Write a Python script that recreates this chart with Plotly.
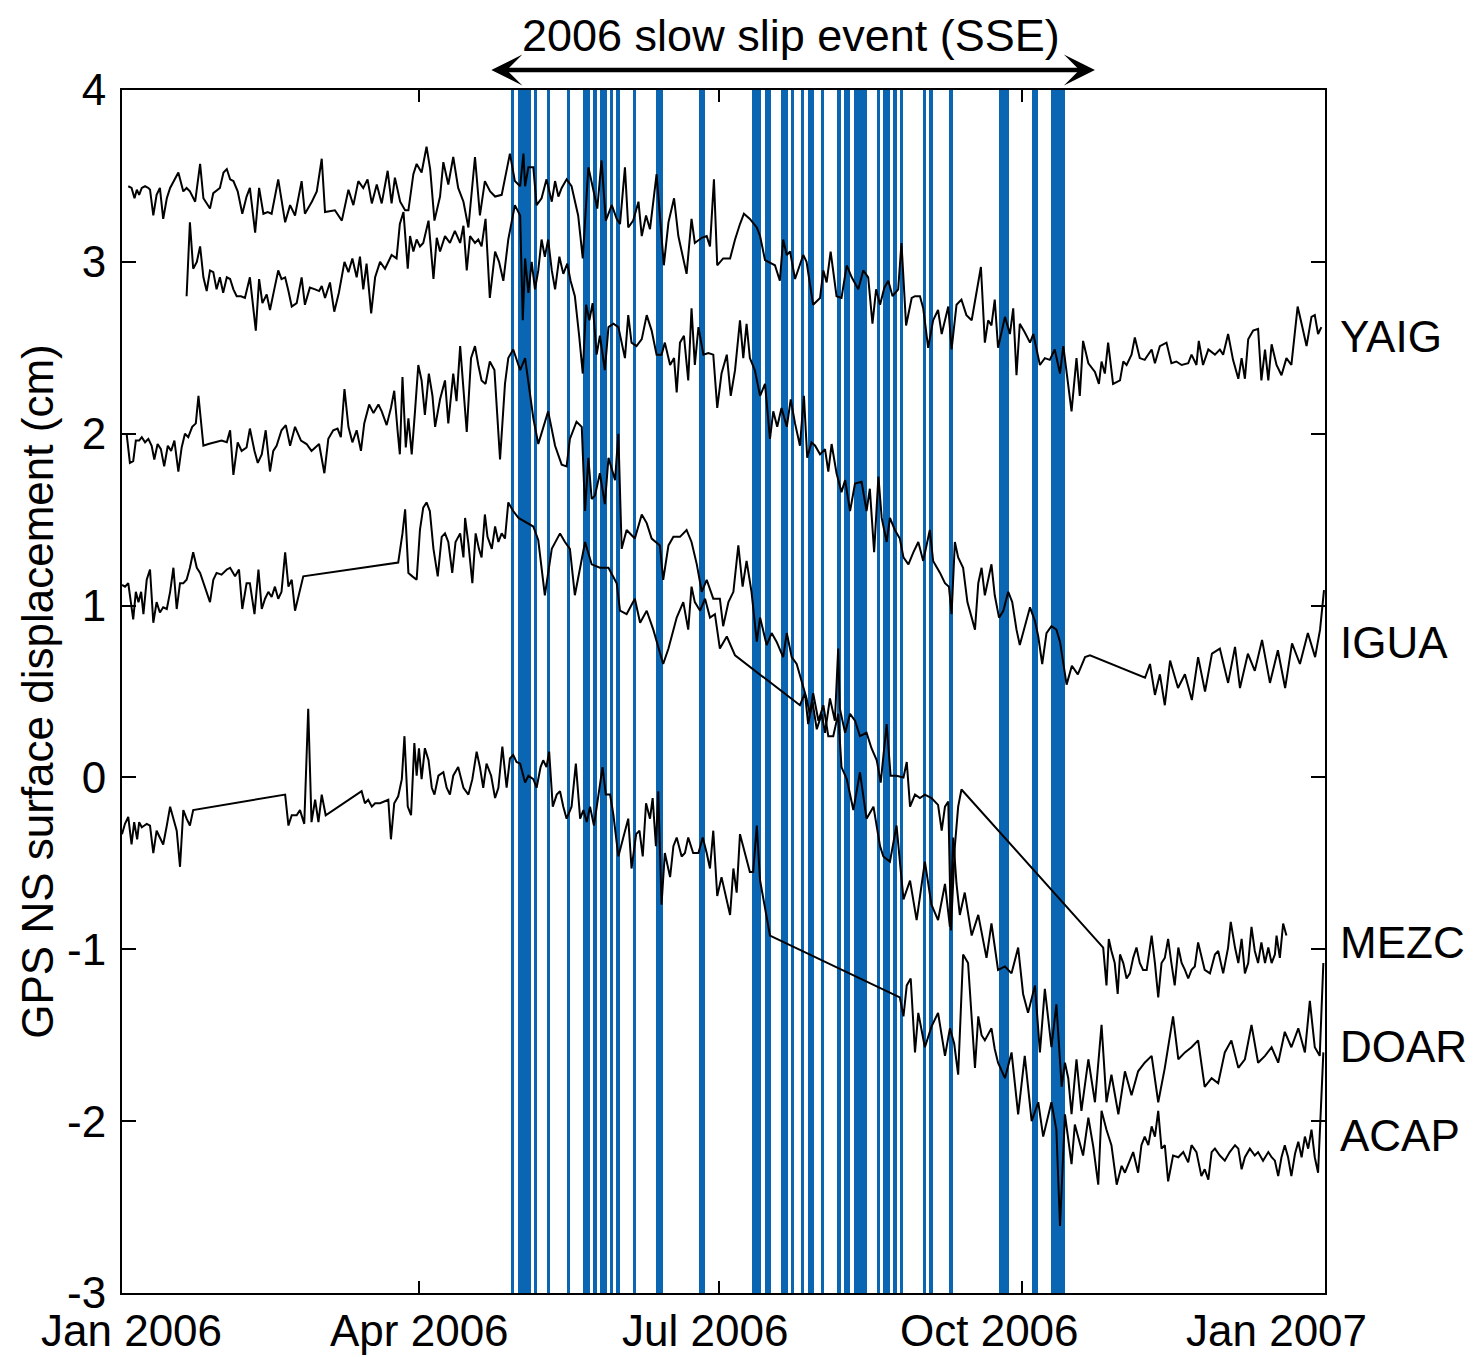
import numpy as np
import pandas as pd
import plotly.graph_objects as go

# ---------------- data (day offsets from 2006-01-01, displacement in cm) ----------------
YAIG = [(1.9,3.44),(2.9,3.43),(3.8,3.37),(4.5,3.42),(5.2,3.39),(6.0,3.43),(7.0,3.44),(8.0,3.43),(8.5,3.42),(9.5,3.27),
(10.5,3.39),(11.5,3.43),(12.5,3.25),(13.6,3.37),(14.6,3.43),(16.1,3.49),(17.1,3.52),(18.6,3.41),(19.6,3.43),(20.6,3.41),
(22.2,3.35),(23.7,3.57),(24.7,3.37),(26.7,3.31),(27.7,3.40),(29.7,3.43),(30.8,3.52),(31.8,3.54),(32.8,3.48),(33.8,3.47),
(35.1,3.41),(36.5,3.28),(37.8,3.38),(38.8,3.43),(40.4,3.17),(41.6,3.43),(42.9,3.28),(44.2,3.29),(45.4,3.28),(47.4,3.48),
(49.5,3.23),(51.0,3.33),(52.5,3.27),(54.5,3.47),(55.5,3.28),(57.6,3.35),(59.1,3.41),(60.6,3.60),(61.6,3.29),(64.6,3.30),
(66.7,3.24),(68.7,3.42),(70.2,3.33),(71.7,3.47),(73.2,3.43),(74.5,3.48),(75.8,3.34),(77.3,3.45),(78.8,3.34),(80.6,3.53),
(81.8,3.34),(82.8,3.49),(84.4,3.35),(85.9,3.30),(86.9,3.30),(88.4,3.51),(89.4,3.57),(90.9,3.52),(92.4,3.67),(93.5,3.54),
(94.8,3.24),(96.5,3.38),(97.5,3.58),(99.0,3.45),(100.5,3.61),(102.0,3.43),(103.6,3.35),(105.1,3.20),(107.1,3.61),(108.6,3.27),
(110.1,3.47),(111.7,3.41),(113.2,3.38),(115.2,3.39),(117.7,3.63),(119.2,3.47),
(120.8,3.44),(121.8,3.63),(122.3,3.44),(123.3,3.55),(124.8,3.55),(125.8,3.33),(127.3,3.37),(128.8,3.48),(130.4,3.35),(131.4,3.47),
(132.4,3.38),(133.4,3.43),(134.9,3.48),(136.4,3.44),(138.4,3.27),(139.8,3.02),(141.5,3.55),(143.0,3.42),(144.2,3.31),(145.5,3.59),
(146.8,3.24),(148.6,3.33),(150.1,3.25),(151.1,3.22),(152.6,3.55),(153.6,3.20),(155.1,3.24),(156.7,3.35),(157.7,3.15),(159.0,3.27),
(160.2,3.19),(162.2,3.51),(164.4,2.98),(165.8,3.23),(167.5,3.37),(168.8,3.15),(171.3,2.93),(172.8,3.25),(173.8,3.11),(175.9,3.14),
(177.4,3.15),(178.4,3.09),(179.6,3.48),(180.6,2.98),(182.4,3.02),(184.5,3.02),(186.0,3.13),(187.5,3.22),(188.7,3.28),(190.5,3.25),
(192.6,3.20),(193.6,3.15),(195.1,3.01),(198.1,2.98),(199.6,2.89),(200.6,3.13),(201.7,3.04),(202.7,3.06),(204.2,2.90),(206.7,3.04),
(207.7,3.00),(209.7,2.75),(211.8,2.79),(212.8,2.95),(213.8,2.88),(215.0,3.06),(216.8,2.80),(218.3,2.79),(219.9,2.98),(221.4,2.91),
(223.4,2.84),(224.9,2.95),(226.4,2.91),(227.7,2.64),(228.8,2.84),(230.0,2.75),(231.3,2.85),(232.5,2.89),(233.8,2.80),(235.5,2.84),
(236.5,3.11),(237.9,2.63),(239.6,2.79),(240.6,2.80),(242.1,2.80),(243.1,2.73),
(244.6,2.50),(246.1,2.66),(247.6,2.72),(248.7,2.58),(249.7,2.66),(250.7,2.74),(251.7,2.49),(253.2,2.75),(254.7,2.78),(256.2,2.69),
(257.8,2.66),(259.3,2.84),(260.6,2.97),(261.8,2.53),(262.8,2.66),(263.8,2.63),(264.8,2.78),(265.8,2.50),(267.9,2.68),(269.4,2.58),
(270.4,2.73),(271.4,2.34),(272.4,2.64),(273.9,2.59),(275.5,2.53),(276.5,2.58),(278.5,2.40),(280.0,2.44),(281.5,2.43),(283.0,2.49),
(284.6,2.35),(285.6,2.51),(287.1,2.26),(288.1,2.13),(289.6,2.44),(290.6,2.22),(291.6,2.54),(293.2,2.41),(295.2,2.36),(296.4,2.29),
(297.2,2.42),(298.2,2.35),(299.2,2.53),(300.7,2.29),(302.8,2.31),(303.8,2.42),(304.8,2.40),(306.3,2.46),(307.3,2.56),(308.8,2.44),
(310.3,2.43),(312.4,2.49),(313.4,2.41),(314.9,2.51),(316.9,2.53),(318.4,2.41),(319.9,2.42),(321.5,2.40),(323.5,2.41),(324.5,2.46),
(326.0,2.40),(326.7,2.54),(328.0,2.40),(329.6,2.49),(331.6,2.46),(333.1,2.49),(334.1,2.46),(335.6,2.58),(337.1,2.43),(338.7,2.32),
(339.7,2.44),(340.7,2.32),(341.7,2.55),(343.2,2.60),(344.7,2.61),(345.7,2.31),(346.8,2.49),(347.8,2.31),(348.8,2.52),(350.3,2.40),
(351.8,2.34),(353.3,2.44),(354.8,2.40),(356.7,2.74),(357.9,2.64),(359.4,2.51),(360.9,2.68),(361.9,2.69),(362.9,2.58),(363.9,2.62)]

IGUA = [(19.6,2.80),(20.6,3.23),(21.6,2.96),(22.7,3.00),(23.7,3.09),(24.7,2.91),(25.7,2.83),(26.7,2.95),(27.7,2.94),(28.7,2.84),
(29.7,2.91),(30.7,2.82),(31.8,2.91),(32.8,2.90),(33.8,2.84),(34.8,2.80),(36.1,2.80),(37.3,2.79),(38.8,2.91),(39.9,2.70),
(40.6,2.60),(41.6,2.90),(42.6,2.76),(43.9,2.81),(44.9,2.72),(46.2,2.84),(47.4,2.95),(48.4,2.90),(49.5,2.91),(50.5,2.83),
(51.5,2.74),(53.0,2.76),(54.5,2.91),(55.5,2.75),(57.0,2.85),(58.6,2.84),(59.8,2.83),(60.6,2.86),(61.6,2.79),(63.1,2.88),
(64.4,2.71),(65.8,2.82),(67.5,3.00),(68.7,2.94),(69.9,3.02),(71.2,2.91),(72.2,3.03),(73.2,2.84),(74.2,2.99),(75.6,2.70),
(76.8,2.91),(78.3,3.00),(79.8,2.96),(81.8,3.04),(83.3,3.02),(84.3,3.22),(85.4,3.29),(86.7,2.96),(87.4,3.15),(88.4,3.06),
(89.4,3.13),(90.4,3.09),(91.4,3.11),(93.0,3.24),(94.5,2.90),(95.5,3.14),(96.5,3.06),(98.0,3.15),(99.5,3.11),(101.0,3.18),
(102.6,3.11),(103.6,3.21),(104.6,2.95),(105.6,3.15),(107.1,3.11),(108.1,3.13),(109.1,3.09),(110.3,3.25),(111.6,2.79),(113.2,3.06),
(114.4,3.00),(115.7,2.89),(117.2,3.13),(119.2,3.33),
(120.8,3.27),(121.6,2.66),(122.3,3.02),(123.3,2.82),(124.3,3.00),(125.3,2.84),(126.3,2.95),(127.3,3.13),(128.3,3.03),(129.3,3.13),
(130.4,2.95),(131.4,2.84),(132.7,3.03),(133.9,2.93),(135.1,2.99),(136.1,2.89),(137.4,2.80),(138.7,2.57),(139.8,2.35),(140.8,2.75),
(141.8,2.66),(142.8,2.76),(144.0,2.46),(145.0,2.57),(146.5,2.37),(147.6,2.62),(149.1,2.64),(150.6,2.62),(151.6,2.53),(152.6,2.44),
(153.6,2.69),(154.6,2.53),(156.1,2.51),(157.7,2.55),(159.2,2.69),(160.7,2.60),(162.2,2.46),(163.7,2.46),(164.7,2.53),(166.3,2.40),
(167.5,2.44),(168.3,2.24),(169.3,2.53),(170.5,2.57),(171.8,2.31),(172.8,2.73),(173.8,2.40),(174.9,2.62),(176.4,2.46),(177.9,2.47),
(179.4,2.46),(180.6,2.15),(181.9,2.35),(183.5,2.46),(184.7,2.22),(186.0,2.37),(187.5,2.66),(188.5,2.44),(189.5,2.64),(190.5,2.44),
(192.0,2.37),(193.6,2.22),(195.1,2.29),(196.6,1.97),(197.6,2.13),(198.8,2.04),(200.1,2.15),(201.7,2.04),(202.9,2.20),(204.2,2.06),
(205.7,1.93),(206.9,2.22),(207.9,1.86),(209.2,1.95),(210.3,1.93),(211.8,1.88),(213.3,1.91),(214.3,1.78),(215.3,1.94),(216.8,1.77),
(218.3,1.66),(219.4,1.73),(220.9,1.55),(222.4,1.71),(224.4,1.72),(225.9,1.55),(226.9,1.68),(228.2,1.31),(229.5,1.75),(230.5,1.51),
(232.0,1.37),(233.0,1.51),(234.5,1.44),(236.0,1.39),(237.1,1.28),(238.6,1.24),(240.1,1.31),(241.6,1.37),(243.1,1.26),
(245.1,1.44),(246.1,1.26),(248.2,1.19),(249.7,1.13),(250.9,1.11),(251.7,0.95),(252.7,1.37),(253.7,1.28),(255.2,1.22),(256.5,1.02),
(257.8,0.93),(258.8,0.86),(259.8,1.13),(260.8,1.22),(261.8,1.06),(262.6,1.13),(263.8,1.24),(264.8,1.06),(266.1,0.93),(267.4,0.97),
(268.9,1.08),(270.1,1.02),(271.4,0.86),(272.4,0.77),(273.9,0.88),(275.5,0.99),(277.0,0.91),(278.0,0.82),(279.2,0.66),(280.5,0.84),
(282.0,0.88),(283.5,0.86),(284.6,0.79),(285.6,0.66),(286.6,0.54),(288.2,0.65),(290.0,0.60),(292.2,0.70),(293.7,0.71),
(310.4,0.58),(311.9,0.66),(313.4,0.48),(314.9,0.60),(316.4,0.42),(318.0,0.68),(320.4,0.52),(322.5,0.60),(324.6,0.45),(326.5,0.70),
(328.6,0.50),(330.7,0.72),(333.1,0.75),(335.6,0.55),(337.7,0.76),(339.2,0.52),(341.6,0.72),(343.7,0.62),(345.9,0.80),(348.3,0.55),
(350.7,0.74),(352.9,0.52),(355.0,0.78),(357.4,0.66),(359.8,0.84),(362.0,0.70),(363.5,0.86),(364.7,1.09)]

MEZC = [(0.0,1.12),(0.9,1.11),(1.9,1.13),(2.7,1.02),(3.4,0.92),(4.2,1.08),(5.0,1.02),(5.8,1.08),(6.5,0.95),(7.5,1.15),
(8.5,1.21),(9.5,0.90),(10.5,1.02),(11.5,0.96),(12.5,0.99),(13.6,0.98),(14.6,1.08),(15.6,1.22),(16.6,0.98),(17.6,1.13),
(18.6,1.13),(19.6,1.15),(20.6,1.22),(21.6,1.31),(22.7,1.22),(23.7,1.19),(25.2,1.11),(26.7,1.02),(27.7,1.15),(28.7,1.19),
(30.2,1.18),(31.8,1.21),(32.8,1.22),(34.3,1.17),(35.5,1.21),(36.5,0.98),(37.8,1.13),(38.8,1.13),(40.2,0.95),(41.4,1.21),
(42.4,0.98),(43.4,1.04),(44.4,1.08),(45.4,1.05),(46.4,1.11),(47.4,1.04),(48.4,1.08),(49.5,1.31),(50.5,1.11),(51.5,1.15),
(52.5,0.97),(53.7,1.06),(55.0,1.17),
(83.8,1.25),(85.1,1.42),(85.9,1.56),(86.9,1.19),(88.1,1.17),(89.4,1.15),(90.4,1.44),(91.4,1.57),(92.4,1.60),(93.4,1.55),
(94.5,1.33),(95.8,1.17),(97.0,1.40),(98.0,1.42),(99.0,1.37),(100.2,1.19),(101.2,1.37),(102.6,1.42),(103.6,1.28),(104.1,1.51),
(105.1,1.36),(106.3,1.13),(107.3,1.42),(108.3,1.33),(109.1,1.28),(110.1,1.53),(110.9,1.40),(112.2,1.33),(113.2,1.46),(114.2,1.37),
(115.2,1.42),(116.2,1.39),(117.2,1.60),(118.7,1.55),(120.3,1.51),
(122.8,1.48),(124.8,1.46),(126.3,1.38),(128.3,1.06),(130.4,1.33),(132.9,1.42),(134.4,1.37),(135.9,1.33),(137.4,1.06),(139.0,1.22),
(140.5,1.37),(142.5,1.24),(145.0,1.22),(147.6,1.22),(150.1,1.13),(151.1,0.97),(153.1,0.95),(155.6,1.04),(157.2,0.90),(159.2,0.97),
(161.2,0.86),(164.2,0.66),(165.8,0.75),(168.3,0.93),(170.3,1.02),(171.8,0.86),(172.8,1.11),(173.8,1.02),(175.4,0.97),(176.9,1.04),
(178.4,0.93),(179.9,0.95),(181.4,0.75),(183.5,0.82),(186.0,0.71),
(205.7,0.42),(207.2,0.49),(208.2,0.31),(209.5,0.44),(210.8,0.28),(212.3,0.37),(213.3,0.26),(214.8,0.46),(216.3,0.33),(217.3,0.75),
(217.8,0.40),(219.4,0.26),(220.9,0.37),(222.4,0.33),(223.9,0.24),(225.9,0.26),(227.4,0.17),(229.0,0.10),(230.2,-0.03),(232.0,0.31),
(233.2,0.01),(235.0,0.01),(237.1,0.00),(238.1,0.09),(239.1,-0.17),(240.6,-0.10),(242.1,-0.12),(243.6,-0.10),(245.6,-0.12),(247.6,-0.16),
(248.7,-0.31),(249.7,-0.17),(250.7,-0.14),(251.5,-0.89),(252.7,-0.40),(253.7,-0.17),(254.7,-0.07),
(297.7,-0.99),(298.7,-1.21),(299.4,-0.94),(300.2,-1.01),(301.2,-1.08),(302.1,-1.26),(302.8,-1.03),(303.8,-1.08),(304.8,-1.17),(305.8,-1.14),
(306.8,-1.05),(307.8,-0.99),(308.8,-1.08),(309.8,-1.12),(310.9,-1.12),(312.4,-0.92),(313.4,-1.08),(314.4,-1.28),(315.4,-1.08),(316.4,-1.05),
(317.4,-0.94),(318.4,-1.08),(319.4,-1.21),(320.5,-0.99),(321.5,-1.08),(322.5,-1.12),(323.5,-1.17),(324.5,-1.12),(325.5,-1.10),(326.5,-0.96),
(327.5,-1.05),(328.5,-1.12),(330.1,-1.14),(331.6,-1.03),(332.6,-1.01),(334.1,-1.14),(335.6,-0.99),(336.4,-0.84),(337.7,-0.99),(338.7,-1.08),
(339.7,-0.94),(340.7,-1.14),(341.7,-1.08),(342.7,-0.87),(343.7,-1.01),(344.7,-1.08),(345.7,-0.96),(346.8,-1.08),(347.8,-0.99),(348.8,-1.08),
(349.8,-1.03),(350.3,-0.92),(351.3,-1.05),(352.3,-0.85),(353.3,-0.92)]

DOAR = [(1.4,2.00),(2.4,1.83),(3.4,1.84),(4.2,1.96),(5.2,1.96),(6.0,1.98),(7.0,1.95),(8.0,1.97),(9.0,1.93),(9.8,1.85),
(10.8,1.94),(11.8,1.91),(12.8,1.81),(13.9,1.93),(14.9,1.90),(15.9,1.96),(17.1,1.78),(18.1,1.92),(19.1,2.00),(20.1,1.98),
(21.3,2.04),(22.4,2.06),(23.2,2.22),(24.0,2.04),(24.7,1.93),(26.2,1.94),(28.2,1.95),(30.2,1.96),(31.8,1.95),(32.8,2.02),
(33.8,1.76),(35.1,1.95),(36.3,1.90),(37.8,1.92),(38.8,2.03),(40.2,1.90),(41.2,1.83),(42.4,1.88),(43.6,2.02),(44.9,1.78),
(45.9,1.90),(46.9,1.93),(48.4,2.02),(49.7,2.05),(51.0,1.93),(52.5,2.04),(54.3,1.96),(56.0,1.94),(57.5,1.90),(59.8,1.94),
(61.4,1.77),(62.6,1.97),(64.1,2.02),(65.4,2.03),(66.4,1.98),(67.5,2.26),(68.7,2.04),(69.9,1.95),(71.2,2.02),(72.5,1.90),
(73.5,2.06),(75.0,2.17),(76.3,2.12),(77.8,2.17),(78.8,2.13),(80.3,2.05),(81.6,2.15),(82.6,2.25),(83.6,2.02),(84.3,1.88),
(85.1,2.33),(86.1,1.92),(86.9,2.09),(87.9,1.88),(88.9,2.13),(89.9,2.40),(90.9,2.31),(91.9,2.11),(93.1,2.35),(94.2,2.22),
(95.0,2.04),(96.5,2.20),(98.0,2.31),(99.0,2.06),(100.5,2.35),(101.5,2.19),(102.6,2.51),(103.6,2.24),(104.6,2.01),(105.9,2.44),
(107.1,2.51),(108.1,2.40),(109.1,2.31),(110.3,2.29),(111.6,2.42),(113.0,2.37),(114.7,1.85),(116.2,2.29),(117.2,2.44),(118.7,2.49),
(120.8,2.37),(122.3,2.44),(123.8,2.22),(124.8,2.09),(126.3,1.94),(127.8,2.04),(129.3,2.13),(131.4,1.93),(133.4,1.82),(134.9,1.81),
(135.9,1.97),(137.9,2.07),(139.5,2.04),(140.5,1.55),(141.5,1.86),(142.5,1.62),(143.5,1.64),(145.0,1.77),(146.5,1.59),(147.6,1.86),
(149.6,1.73),(150.6,2.00),(151.6,1.33),(153.1,1.44),(155.6,1.39),(157.7,1.53),(159.2,1.48),(160.7,1.39),(163.2,1.35),(164.2,1.15),
(165.8,1.35),(167.3,1.40),(169.3,1.40),(171.3,1.44),(172.8,1.37),(174.4,1.24),(175.9,1.08),(177.4,1.15),(179.4,1.04),(181.4,1.04),
(182.4,0.88),(184.0,1.02),(185.5,1.08),(187.0,1.35),(188.3,1.11),(189.5,1.26),(191.0,1.08),(192.6,0.79),(193.6,0.93),(195.6,0.77),
(197.1,0.84),(198.6,0.79),(200.6,0.70),(201.7,0.84),(203.2,0.70),(204.7,0.66),(206.7,0.53),
(207.7,0.46),(208.7,0.37),(209.7,0.49),(211.3,0.33),(212.8,0.42),(214.3,0.24),(215.8,0.24),(217.3,0.37),(218.3,0.06),(219.9,-0.01),
(221.9,-0.19),(223.9,0.03),(225.9,-0.24),(228.0,-0.17),(230.0,-0.40),(231.0,-0.46),(233.0,-0.49),(235.0,-0.28),(237.1,-0.71),(239.1,-0.60),
(241.1,-0.83),(243.6,-0.49),(245.6,-0.74),(247.6,-0.83),(249.7,-0.62),(251.2,-0.87),(252.2,-0.35),(253.2,-0.62),(254.2,-0.80),(255.7,-0.67),
(257.8,-0.92),(259.8,-0.80),(262.3,-1.05),(263.8,-0.85),(265.8,-1.12),(267.9,-1.10),(269.9,-1.14),(271.9,-0.99),(273.4,-1.26),(274.9,-1.37),
(277.0,-1.21),(278.5,-1.60),(280.0,-1.23),(282.0,-1.57),(283.5,-1.32),(285.1,-1.80),(286.1,-1.66),(287.1,-1.75),(288.1,-1.96),(289.6,-1.64),
(291.1,-1.94),(293.2,-1.64),(295.2,-1.89),(297.2,-1.44),(298.7,-1.89),(300.2,-1.73),(302.3,-1.96),(304.3,-1.71),(306.3,-1.85),(308.3,-1.71),
(310.3,-1.66),(312.4,-1.62),(314.4,-1.89),(316.4,-1.69),(318.9,-1.39),(320.5,-1.64),(322.5,-1.60),(324.5,-1.57),(326.5,-1.53),(328.5,-1.80),
(330.6,-1.75),(332.6,-1.78),(334.6,-1.60),(336.6,-1.53),(338.7,-1.69),(340.7,-1.64),(342.7,-1.44),(344.7,-1.66),(346.8,-1.62),(348.8,-1.57),
(350.8,-1.66),(352.8,-1.48),(354.8,-1.57),(356.9,-1.46),(358.9,-1.60),(360.4,-1.30),(361.9,-1.57),(363.4,-1.62),(364.5,-1.08)]

ACAP = [(0.0,-0.33),(0.9,-0.27),(1.9,-0.23),(2.9,-0.39),(3.7,-0.26),(4.6,-0.36),(5.2,-0.26),(6.0,-0.29),(6.8,-0.28),(7.5,-0.27),
(8.5,-0.28),(9.5,-0.44),(10.5,-0.31),(11.5,-0.35),(12.5,-0.39),(13.6,-0.28),(14.6,-0.17),(15.6,-0.24),(16.6,-0.31),(17.6,-0.52),
(18.6,-0.19),(19.6,-0.24),(20.6,-0.28),(21.6,-0.19),
(49.5,-0.10),(50.5,-0.28),(51.5,-0.22),(53.0,-0.22),(54.0,-0.19),(55.3,-0.27),(56.5,0.40),(57.5,-0.26),(58.6,-0.13),(59.6,-0.26),
(60.6,-0.10),(61.8,-0.22),
(72.7,-0.08),(73.7,-0.15),(74.7,-0.13),(75.8,-0.17),(76.8,-0.15),(78.3,-0.15),(79.8,-0.14),(80.8,-0.13),(81.6,-0.36),(82.6,-0.15),
(83.8,-0.11),(84.9,-0.01),(85.7,0.24),(86.7,-0.17),(87.7,-0.22),(88.7,0.20),(89.4,0.01),(90.1,0.17),(90.9,-0.01),(91.9,0.17),
(93.0,0.10),(94.0,-0.06),(94.8,-0.10),(96.0,0.01),(97.5,0.03),(98.5,-0.06),(99.5,-0.10),(100.5,0.01),(102.0,0.06),(103.6,-0.06),
(105.1,-0.10),(106.3,-0.01),(107.6,0.15),(108.6,0.06),(109.6,-0.06),(110.6,0.08),(112.0,0.01),(113.2,-0.12),(114.2,-0.06),(115.4,0.18),
(116.7,-0.06),(117.7,0.11),(118.7,0.13),(119.7,0.09),
(120.8,0.08),(122.3,-0.03),(123.3,0.01),(124.8,-0.01),(125.8,-0.06),(127.0,0.06),(127.8,0.10),(128.8,0.06),(129.6,0.15),(130.7,-0.17),
(131.9,-0.10),(132.9,-0.08),(133.9,-0.17),(134.9,-0.24),(136.4,-0.17),(137.7,0.08),(139.0,-0.24),(140.0,-0.19),(141.0,-0.26),(142.0,-0.17),
(143.2,-0.28),(144.5,-0.10),(145.8,0.06),(146.8,-0.10),(148.1,-0.10),(149.1,-0.22),(150.6,-0.46),(152.1,-0.35),(153.6,-0.24),(154.6,-0.53),
(156.0,-0.33),(157.0,-0.31),(158.0,-0.46),(159.0,-0.15),(160.2,-0.24),(161.0,-0.12),(162.0,-0.40),(162.7,-0.08),(163.7,-0.74),(164.7,-0.44),
(166.3,-0.58),(167.3,-0.40),(168.3,-0.35),(169.8,-0.46),(170.8,-0.44),(171.8,-0.35),(173.3,-0.44),(174.9,-0.44),(176.2,-0.35),(177.4,-0.44),
(178.4,-0.53),(179.4,-0.31),(180.6,-0.69),(181.9,-0.58),(183.3,-0.71),(184.5,-0.80),(185.5,-0.53),(186.5,-0.67),(187.5,-0.33),(189.0,-0.44),
(190.5,-0.55),(191.5,-0.55),(192.6,-0.28),(193.6,-0.60),(195.1,-0.76),(196.6,-0.92),
(236.0,-1.28),(237.1,-1.39),(238.1,-1.21),(239.3,-1.17),(240.6,-1.60),(241.6,-1.37),(243.6,-1.57),(245.6,-1.45),(247.6,-1.37),(249.7,-1.62),
(251.2,-1.46),(252.5,-1.55),(253.7,-1.73),(255.2,-1.03),(256.7,-1.08),(258.8,-1.69),(259.8,-1.39),(260.8,-1.50),(261.8,-1.53),(263.8,-1.46),
(264.8,-1.58),(265.8,-1.66),(267.9,-1.75),(269.9,-1.60),(271.9,-1.96),(273.9,-1.62),(276.0,-2.00),(278.0,-1.89),(279.5,-2.09),(282.0,-1.89),
(283.5,-2.05),(284.6,-2.61),(286.1,-1.96),(287.1,-2.10),(288.1,-2.25),(289.1,-2.02),(290.1,-2.09),(291.6,-2.20),(293.2,-1.98),(294.7,-2.15),
(296.2,-2.37),(297.2,-1.94),(298.7,-2.05),(300.2,-2.14),(301.8,-2.37),(303.3,-2.26),(304.3,-2.30),(305.3,-2.25),(306.8,-2.18),(308.3,-2.30),
(309.3,-2.14),(310.3,-2.09),(311.4,-2.14),(312.4,-2.03),(313.4,-2.09),(314.4,-1.94),(315.4,-2.16),(316.4,-2.14),(317.4,-2.35),(318.9,-2.20),
(320.5,-2.21),(322.0,-2.18),(323.5,-2.24),(324.5,-2.14),(326.0,-2.18),(327.5,-2.32),(328.5,-2.28),(329.6,-2.34),(330.6,-2.18),(331.6,-2.16),
(333.1,-2.20),(334.6,-2.23),(336.1,-2.18),(337.7,-2.14),(338.7,-2.16),(339.7,-2.28),(340.7,-2.21),(342.2,-2.16),(343.7,-2.20),(344.7,-2.18),
(346.2,-2.23),(347.8,-2.18),(348.8,-2.21),(349.8,-2.23),(350.8,-2.32),(351.8,-2.21),(352.8,-2.14),(353.8,-2.21),(354.8,-2.32),(355.9,-2.19),
(356.9,-2.12),(357.9,-2.21),(358.9,-2.09),(359.9,-2.16),(360.9,-2.05),(361.9,-2.21),(362.9,-2.30),(364.5,-1.60)]

# days (from 2006-01-01) with tremor activity (blue bars)
TREMOR_DAY = [118, 120, 121, 122, 123, 125, 129, 135, 140, 141, 143, 145, 146, 148, 150, 155, 162, 163,
              175, 176, 191, 192, 193, 195, 196, 200, 201, 203, 206, 208, 209, 212, 217, 219, 220,
              222, 223, 224, 225, 229, 231, 232, 234, 236, 243, 245, 251, 266, 267, 268, 276, 277,
              282, 283, 284, 285]

STATIONS = ["YAIG", "IGUA", "MEZC", "DOAR", "ACAP"]
STATION_DATA = [YAIG, IGUA, MEZC, DOAR, ACAP]
LABEL_CM = [2.566, 0.788, -0.960, -1.563, -2.086]

X_TICK_DATES = ["2006-01-01", "2006-04-01", "2006-07-01", "2006-10-01", "2007-01-01"]
X_TICK_TEXT = ["Jan 2006", "Apr 2006", "Jul 2006", "Oct 2006", "Jan 2007"]
X_LABEL_POS = [0.0075, 0.2477, 0.4846, 0.7215, 0.9593]
Y_TICKS = [-3, -2, -1, 0, 1, 2, 3, 4]
Y_MIN, Y_MAX = -3, 4
SSE_DAYS = (111.6, 295.2)
SSE_TEXT = "2006 slow slip event (SSE)"

# ---------------- figure ----------------
T0 = pd.Timestamp("2006-01-01")
T1 = pd.Timestamp("2007-01-01")
FONT = "Liberation Sans, Arial, Helvetica, sans-serif"
BLUE = "#0A66B2"


def to_dates(days):
    return T0 + pd.to_timedelta(np.asarray(days, dtype=float), unit="D")


fig = go.Figure()

tremor_x = to_dates(np.asarray(TREMOR_DAY, dtype=float) + 0.5)
fig.add_trace(go.Bar(
    x=tremor_x, y=[Y_MAX - Y_MIN] * len(TREMOR_DAY), base=Y_MIN,
    width=86400000, marker=dict(color=BLUE, line=dict(width=0)),
    hoverinfo="skip", showlegend=False))

for name, pts in zip(STATIONS, STATION_DATA):
    d = [p[0] for p in pts]
    v = [p[1] for p in pts]
    fig.add_trace(go.Scatter(x=to_dates(d), y=v, mode="lines", name=name,
                             line=dict(color="black", width=2),
                             showlegend=False))

annotations = []
for txt, pos in zip(X_TICK_TEXT, X_LABEL_POS):
    annotations.append(dict(text=txt, x=pos, y=-0.0308, xref="paper", yref="paper",
                            showarrow=False, xanchor="center", yanchor="middle",
                            font=dict(size=44, family=FONT, color="black")))
for name, yv in zip(STATIONS, LABEL_CM):
    annotations.append(dict(text=name, x=1.0108, y=yv, xref="paper", yref="y",
                            showarrow=False, xanchor="left", yanchor="middle",
                            font=dict(size=44, family=FONT, color="black")))
annotations.append(dict(text=SSE_TEXT, x=0.556, y=1.0457, xref="paper", yref="paper",
                        showarrow=False, xanchor="center", yanchor="middle",
                        font=dict(size=45, family=FONT, color="black")))
sse_start, sse_end = to_dates(list(SSE_DAYS))
annotations.append(dict(text="", x=sse_end, y=1.0166, xref="x", yref="paper",
                        ax=sse_start, ay=0, axref="x", ayref="pixel",
                        showarrow=True, arrowside="end+start",
                        arrowhead=3, startarrowhead=3, arrowsize=1.15, startarrowsize=1.15,
                        arrowwidth=4.5, arrowcolor="black"))

fig.update_layout(
    width=1474, height=1357,
    margin=dict(l=122, r=149, t=90, b=64),
    paper_bgcolor="white", plot_bgcolor="white",
    font=dict(family=FONT, size=44, color="black"),
    showlegend=False, bargap=0,
    annotations=annotations,
)
fig.update_xaxes(type="date", range=[T0, T1], tickvals=X_TICK_DATES,
                 showticklabels=False, ticks="inside", ticklen=12, tickwidth=2,
                 tickcolor="black", showline=True, linewidth=2, linecolor="black",
                 mirror="ticks", showgrid=False, zeroline=False)
fig.update_yaxes(range=[Y_MIN, Y_MAX], tickvals=Y_TICKS, ticktext=[str(t) for t in Y_TICKS],
                 ticks="inside", ticklen=14, tickwidth=2, tickcolor="black",
                 showline=True, linewidth=2, linecolor="black", mirror="ticks",
                 showgrid=False, zeroline=False, ticklabelstandoff=5,
                 tickfont=dict(size=44, family=FONT, color="black"),
                 title=dict(text="GPS NS surface displacement (cm)", standoff=0,
                            font=dict(size=44, family=FONT, color="black")))

fig.write_html("out.html", config={"displayModeBar": False},
               post_script="document.body.style.margin='0';document.body.style.overflow='hidden';")
